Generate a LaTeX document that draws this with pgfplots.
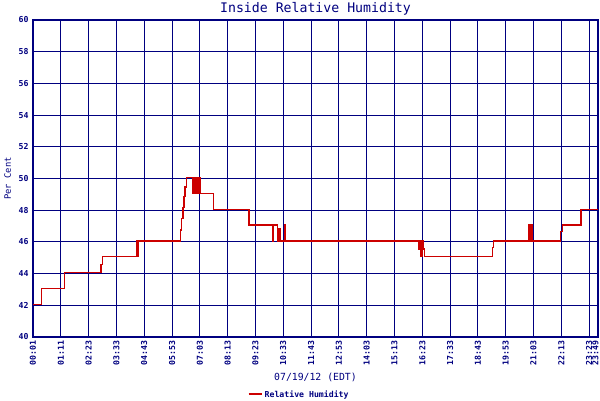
\documentclass[border=0pt]{standalone}
\usepackage{pgfplots}
\pgfplotsset{compat=1.18}
\usepackage{fontspec}
\setmainfont{DejaVu Sans Mono}
\definecolor{navy}{RGB}{0,0,128}
\definecolor{rhred}{RGB}{204,0,0}

\begin{document}
\begin{tikzpicture}
\useasboundingbox (0,0) rectangle (600pt,400pt);
\begin{axis}[
  at={(33pt,63pt)}, anchor=south west,
  scale only axis,
  width=565pt, height=317pt,
  xmin=0, xmax=20.32,
  ymin=40, ymax=60,
  ytick={40,42,...,60},
  xtick={0,1,...,20},
  xticklabels={00:01,01:11,02:23,03:33,04:43,05:53,07:03,08:13,09:23,10:33,
               11:43,12:53,14:03,15:13,16:23,17:33,18:43,19:53,21:03,22:13,
               23:23},
  extra x ticks={20.32},
  extra x tick labels={23:49},
  extra x tick style={grid=major,
    x tick label style={yshift=2.5pt}},
  /pgf/number format/assume math mode=true,
  major tick length=0pt,
  grid=major,
  grid style={navy, line width=1pt},
  axis line style={navy, line width=1.3pt},
  tick label style={navy, font=\fontsize{8.2}{9}\selectfont\bfseries},
  x tick label style={rotate=90, anchor=east},
  y tick label style={xshift=-1pt},
  every axis title shift=0pt,
  title={Inside Relative Humidity},
  title style={navy, font=\fontsize{13.2}{15}\selectfont,
               at={(axis description cs:0.5,1.036)}, anchor=center},
  xlabel={07/19/12 (EDT)},
  xlabel style={navy, font=\fontsize{9.8}{11}\selectfont,
                at={(axis description cs:0.5,-0.129)}, anchor=center},
  ylabel={Per Cent},
  ylabel style={navy, font=\fontsize{8.8}{10}\selectfont,
                at={(axis description cs:-0.045,0.5)}, anchor=center},
  legend style={at={(axis description cs:0.471,-0.183)}, anchor=center,
                draw=none, fill=none,
                font=\fontsize{8.2}{9}\selectfont\bfseries,
                text=navy, inner sep=0pt},
  legend image code/.code={\draw[rhred, line width=2pt] (0pt,0pt) -- (13pt,0pt);},
]
\addplot[const plot, rhred, line width=1.4pt, yshift=1pt] coordinates {
  (0,42) (0.31,43) (1.13,44) (2.45,44.5) (2.49,45)
  (3.73,46) (3.76,45) (3.80,46)
  (5.31,46.7) (5.35,47.4) (5.39,48.1) (5.43,48.8) (5.47,49.4) (5.52,50)
  (5.74,49) (5.79,50) (5.83,49) (5.88,50) (5.92,49) (5.95,50) (6.00,49)
  (6.49,48) (7.77,47)
  (8.61,46) (8.66,47) (8.79,46) (8.85,46.8) (8.90,46) (9.04,47) (9.06,46)
  (13.88,45.5) (13.90,46) (13.95,45) (13.99,46) (14.03,45.5) (14.08,45)
  (16.52,45.6) (16.56,46)
  (17.81,47) (17.85,46) (17.89,47) (17.94,46)
  (18.98,46.6) (19.04,47)
  (19.71,48) (20.32,48)
};
\legend{Relative Humidity}
\end{axis}
\end{tikzpicture}
\end{document}
